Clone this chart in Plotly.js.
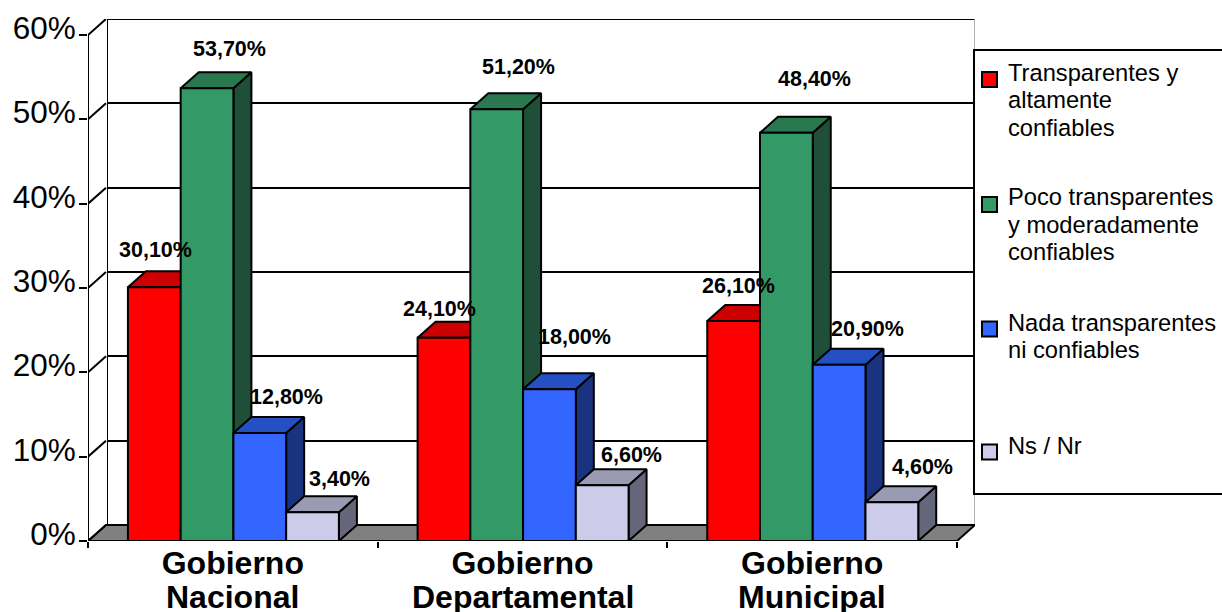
<!DOCTYPE html>
<html><head><meta charset="utf-8">
<script src="https://cdn.plot.ly/plotly-3.0.1.min.js"></script>
<style>html,body{margin:0;padding:0;background:#fff}#c{width:1222px;height:612px}</style>
</head><body><div id="c"></div>
<script>
// ---- data ----
const categoryLine1 = ["Gobierno", "Gobierno", "Gobierno"];
const categoryLine2 = ["Nacional", "Departamental", "Municipal"];
const transparentes = [30.1, 24.1, 26.1];
const pocoTransparentes = [53.7, 51.2, 48.4];
const nadaTransparentes = [12.8, 18.0, 20.9];
const nsNr = [3.4, 6.6, 4.6];
const seriesLines = [["Transparentes y","altamente","confiables"],
                     ["Poco transparentes","y moderadamente","confiables"],
                     ["Nada transparentes","ni confiables"],
                     ["Ns / Nr"]];
const yTicks = [0, 10, 20, 30, 40, 50, 60];

// ---- styles / geometry ----
const W = 1222, H = 612;
const frontColors = ["#ff0000", "#339966", "#3366ff", "#ccccea"];
const topColors   = ["#cc0000", "#29784f", "#2450c4", "#9a9ab2"];
const sideColors  = ["#800000", "#1f4f38", "#1a3380", "#66667a"];
const labelShift = [ // px offset of each value label from its bar top
  [[1,37],[-4,29],[5,35]],
  [[22,39],[22,42],[28,54]],
  [[27,36],[25,52],[28,36]],
  [[27,33],[29,30],[31,35]]
];
const legendKeyY = [79.5, 204.5, 329, 452];
const legendTextY = [[73,100,128],[197,225,252],[323,350],[446]];
const catPx = 289.7, unitPx = (541-35)/60;
const barW = 52.75/catPx, dx = 18/catPx, dy = 16/unitPx, nudge = 0.002;
const lw = 2, ink = "#000", fontName = "Liberation Sans";
const fx = px => px/W, fy = py => 1-py/H;

const allValues = [transparentes, pocoTransparentes, nadaTransparentes, nsNr];
const xs = categoryLine1.map((_, c) => c);
const traces = [];
const base = {type:"scatter",mode:"lines",xaxis:"x2",yaxis:"y2",cliponaxis:false,showlegend:false,hoverinfo:"skip"};

// back wall: right edge, then left + top edge
traces.push({...base,xaxis:"x",yaxis:"y",x:[1,1],y:[0,60],line:{color:"#666",width:1}});
traces.push({...base,xaxis:"x",yaxis:"y",x:[0,0,1],y:[0,60,60],line:{color:ink,width:lw}});
// floor
traces.push({...base,x:[-0.5,-0.5+dx,2.5+dx,2.5,-0.5],y:[0,dy,dy,0,0],fill:"toself",fillcolor:"#808080",line:{color:ink,width:lw},zorder:0});
// connectors between front axis and back wall
const cx=[], cy=[];
yTicks.forEach(t=>{cx.push(-0.5,-0.5+dx,null); cy.push(t,t+dy,null);});
traces.push({...base,x:cx,y:cy,line:{color:ink,width:lw},zorder:0});

allValues.forEach((vals,i)=>{
  const tx=[],ty=[],sx=[],sy=[];
  vals.forEach((v,c)=>{
    const l=c+nudge+(i-2)*barW, r=l+barW;
    tx.push(l,r,r+dx,l+dx,l,null); ty.push(v,v,v+dy,v+dy,v,null);
    sx.push(r,r,r+dx,r+dx,r,null); sy.push(0,v,v+dy,dy,0,null);
  });
  traces.push({...base,x:sx,y:sy,fill:"toself",fillcolor:sideColors[i],line:{color:ink,width:lw},zorder:2*i+1});
  traces.push({...base,x:tx,y:ty,fill:"toself",fillcolor:topColors[i],line:{color:ink,width:lw},zorder:2*i+1});
  traces.push({type:"bar",name:seriesLines[i].join(" "),showlegend:false,xaxis:"x2",yaxis:"y2",
    x:xs.map(c=>c+nudge+(i-1.5)*barW),y:vals,width:barW,
    marker:{color:frontColors[i],line:{color:ink,width:lw}},zorder:2*i+2});
});
// front axis lines
traces.push({...base,x:[-0.5,-0.5,2.5],y:[60,0,0],line:{color:ink,width:lw},zorder:20});

const annotations=[];
allValues.forEach((vals,i)=>vals.forEach((v,c)=>{
  annotations.push({xref:"x2",yref:"y2",x:c+nudge+(i-1.5)*barW,y:v,showarrow:false,
    text:"<b>"+v.toFixed(2).replace(".",",")+"%</b>",xshift:labelShift[i][c][0],yshift:labelShift[i][c][1],
    xanchor:"center",yanchor:"middle",font:{family:fontName,size:21.5,color:"#000"}});
}));
categoryLine2.forEach((t,c)=>{
  annotations.push({xref:"x2",yref:"paper",x:c,y:fy(597),showarrow:false,text:"<b>"+t+"</b>",xanchor:"center",yanchor:"middle",height:30,
    font:{family:fontName,size:32,color:"#000"}});
});
seriesLines.forEach((lines,i)=>lines.forEach((t,j)=>{
  annotations.push({xref:"paper",yref:"paper",x:fx(1007),y:fy(legendTextY[i][j]),showarrow:false,text:t,xanchor:"left",yanchor:"middle",
    xshift:-1,font:{family:fontName,size:23.7,color:"#000"}});
}));

const shapes=[
  {type:"rect",xref:"paper",yref:"paper",x0:fx(974),x1:fx(1240),y0:fy(494),y1:fy(50),line:{color:ink,width:lw},fillcolor:"#fff",layer:"above"}
];
legendKeyY.forEach((y,i)=>{
  shapes.push({type:"rect",xref:"paper",yref:"paper",x0:fx(982),x1:fx(997),y0:fy(y+7.5),y1:fy(y-7.5),
    line:{color:ink,width:lw},fillcolor:frontColors[i],layer:"above"});
});

const layout={
  width:W,height:H,margin:{l:0,r:0,t:0,b:0,pad:0},paper_bgcolor:"#fff",plot_bgcolor:"rgba(0,0,0,0)",
  font:{family:fontName,color:"#000"},barmode:"overlay",
  xaxis:{domain:[fx(107),fx(974.5)],range:[0,1],anchor:"y",showgrid:false,zeroline:false,showticklabels:false,ticks:"",showline:false},
  yaxis:{domain:[fy(525),fy(19)],range:[0,60],anchor:"x",tickvals:yTicks,showticklabels:false,ticks:"",
         showgrid:true,gridcolor:ink,gridwidth:lw,zeroline:false,showline:false},
  xaxis2:{domain:[fx(88),fx(975)],range:[-0.5,2.5+dx],anchor:"y2",tickmode:"array",tickvals:xs,ticktext:categoryLine1.map(t=>"<b>"+t+"</b>"),ticks:"",
          tickfont:{family:fontName,size:32,color:"#000"},showgrid:false,zeroline:false,
          showline:false,ticklabelstandoff:0,
          minor:{tickmode:"array",tickvals:[-0.5,0.5,1.5,2.5],ticks:"outside",ticklen:6,tickwidth:lw,tickcolor:ink,showgrid:false}},
  yaxis2:{domain:[fy(541),fy(19)],range:[0,60+dy],anchor:"x2",tickmode:"array",tickvals:yTicks,ticktext:yTicks.map(t=>t+"%"),
          ticks:"outside",ticklen:8,tickwidth:lw,tickcolor:ink,showgrid:false,zeroline:false,showline:false,
          tickfont:{family:fontName,size:31.5,color:"#000"},ticklabelshift:-7,ticklabelstandoff:-3},
  showlegend:false,
  annotations,shapes,
  hovermode:false
};
Plotly.newPlot("c",traces,layout,{displayModeBar:false,staticPlot:true});
</script></body></html>
